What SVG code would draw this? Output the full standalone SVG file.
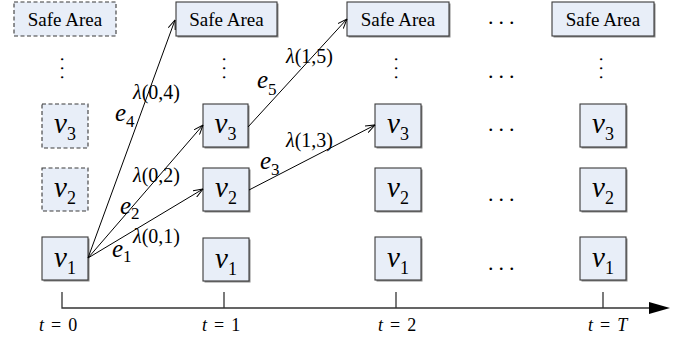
<svg xmlns="http://www.w3.org/2000/svg" width="688" height="340" viewBox="0 0 688 340">
<style>
.box{fill:#E8EEF8;stroke:#3a3a3a;stroke-width:1.1}
.dash{stroke-dasharray:4,2.5}
.sh{fill:#8a8a8a}
text{font-family:'Liberation Serif','DejaVu Serif',serif;fill:#000}
.sa{font-size:19px;text-anchor:middle}
.v{font-size:29px;font-style:italic;text-anchor:middle}
.sub{font-size:18px;font-style:normal}
.lam{font-size:20px}
.e{font-size:25px;font-style:italic}
.es{font-size:17px;font-style:normal}
.ax{font-size:18px;word-spacing:2.5px}
.conn{stroke:#000;stroke-width:1;fill:none}
.axis{stroke:#333;stroke-width:1.3;fill:none}
.dots{font-size:22px;letter-spacing:5px}
.vd{font-size:18px;letter-spacing:4.5px}
</style>
<defs>
<marker id="oa" viewBox="0 0 10 8" refX="9.6" refY="4" markerWidth="10" markerHeight="8" markerUnits="userSpaceOnUse" orient="auto">
<path d="M0,0.3 L9.6,4 L0,7.7" fill="none" stroke="#000" stroke-width="1"/>
</marker>
<marker id="fa" viewBox="0 0 22 12" refX="0" refY="6" markerWidth="22" markerHeight="12" markerUnits="userSpaceOnUse" orient="auto">
<path d="M0,0 L21,6 L0,12 Z" fill="#000"/>
</marker>
</defs>

<g font-family="'Liberation Serif', 'DejaVu Serif', serif">
<!-- column t=0 -->
<g id="c0-safe"><rect class="box dash" x="14" y="2" width="102" height="34"/><text class="sa" x="65" y="26">Safe Area</text></g>
<g id="c0-v3"><rect class="box dash" x="42" y="104" width="46" height="44"/><text class="v" x="65" y="133">v<tspan class="sub" dy="7">3</tspan></text></g>
<g id="c0-v2"><rect class="box dash" x="42" y="168" width="46" height="43"/><text class="v" x="65" y="197">v<tspan class="sub" dy="7">2</tspan></text></g>
<g id="c0-v1"><rect class="sh" x="43.5" y="238.5" width="46" height="43"/><rect class="box" x="42" y="237" width="46" height="43"/><text class="v" x="65" y="267">v<tspan class="sub" dy="7">1</tspan></text></g>

<!-- column t=1 -->
<g id="c1-safe"><rect class="sh" x="177.5" y="3.5" width="101" height="34"/><rect class="box" x="176" y="2" width="101" height="34"/><text class="sa" x="226.5" y="26">Safe Area</text></g>
<g id="c1-v3"><rect class="sh" x="204.5" y="105.5" width="45" height="43"/><rect class="box" x="203" y="104" width="45" height="43"/><text class="v" x="225.5" y="133">v<tspan class="sub" dy="7">3</tspan></text></g>
<g id="c1-v2"><rect class="sh" x="204.5" y="169.5" width="46" height="43"/><rect class="box" x="203" y="168" width="46" height="43"/><text class="v" x="226" y="197">v<tspan class="sub" dy="7">2</tspan></text></g>
<g id="c1-v1"><rect class="sh" x="204.5" y="239.5" width="46" height="43"/><rect class="box" x="203" y="238" width="46" height="43"/><text class="v" x="226" y="268">v<tspan class="sub" dy="7">1</tspan></text></g>

<!-- column t=2 -->
<g id="c2-safe"><rect class="sh" x="348.5" y="3.5" width="102" height="34"/><rect class="box" x="347" y="2" width="102" height="34"/><text class="sa" x="398" y="26">Safe Area</text></g>
<g id="c2-v3"><rect class="sh" x="376.5" y="105.5" width="46" height="43"/><rect class="box" x="375" y="104" width="46" height="43"/><text class="v" x="398" y="133">v<tspan class="sub" dy="7">3</tspan></text></g>
<g id="c2-v2"><rect class="sh" x="376.5" y="169.5" width="46" height="43"/><rect class="box" x="375" y="168" width="46" height="43"/><text class="v" x="398" y="197">v<tspan class="sub" dy="7">2</tspan></text></g>
<g id="c2-v1"><rect class="sh" x="376.5" y="238.5" width="46" height="43"/><rect class="box" x="375" y="237" width="46" height="43"/><text class="v" x="398" y="267">v<tspan class="sub" dy="7">1</tspan></text></g>

<!-- column t=T -->
<g id="cT-safe"><rect class="sh" x="553.5" y="3.5" width="102" height="34"/><rect class="box" x="552" y="2" width="102" height="34"/><text class="sa" x="603" y="26">Safe Area</text></g>
<g id="cT-v3"><rect class="sh" x="581.5" y="105.5" width="46" height="43"/><rect class="box" x="580" y="104" width="46" height="43"/><text class="v" x="603" y="133">v<tspan class="sub" dy="7">3</tspan></text></g>
<g id="cT-v2"><rect class="sh" x="581.5" y="169.5" width="46" height="43"/><rect class="box" x="580" y="168" width="46" height="43"/><text class="v" x="603" y="197">v<tspan class="sub" dy="7">2</tspan></text></g>
<g id="cT-v1"><rect class="sh" x="581.5" y="238.5" width="46" height="43"/><rect class="box" x="580" y="237" width="46" height="43"/><text class="v" x="603" y="267">v<tspan class="sub" dy="7">1</tspan></text></g>

<!-- vertical dots -->
<g id="vdots">
<text class="vd" transform="translate(61,57) rotate(90)">...</text>
<text class="vd" transform="translate(223,57) rotate(90)">...</text>
<text class="vd" transform="translate(395,57) rotate(90)">...</text>
<text class="vd" transform="translate(600,57) rotate(90)">...</text>
</g>
<!-- horizontal dots -->
<g id="hdots">
<text class="dots" x="488" y="24">...</text>
<text class="dots" x="488" y="78">...</text>
<text class="dots" x="488" y="131">...</text>
<text class="dots" x="488" y="201">...</text>
<text class="dots" x="488" y="270">...</text>
</g>

<!-- edge labels -->
<g id="labels">
<text class="lam" x="133" y="99"><tspan font-style="italic">λ</tspan>(0,4)</text>
<text class="e" x="115" y="121">e<tspan class="es" dy="6">4</tspan></text>
<text class="lam" x="133" y="182"><tspan font-style="italic">λ</tspan>(0,2)</text>
<text class="e" x="120" y="214">e<tspan class="es" dy="5">2</tspan></text>
<text class="lam" x="133" y="243"><tspan font-style="italic">λ</tspan>(0,1)</text>
<text class="e" x="112" y="257">e<tspan class="es" dy="5">1</tspan></text>
<text class="lam" x="286" y="63"><tspan font-style="italic">λ</tspan>(1,5)</text>
<text class="e" x="257" y="88">e<tspan class="es" dy="7">5</tspan></text>
<text class="lam" x="286" y="147"><tspan font-style="italic">λ</tspan>(1,3)</text>
<text class="e" x="260" y="169">e<tspan class="es" dy="6">3</tspan></text>
</g>

<!-- time axis -->
<g id="axis">
<path class="axis" d="M62,292 V308 H649" marker-end="url(#fa)"/>
<line class="axis" x1="224" y1="292" x2="224" y2="308"/>
<line class="axis" x1="396" y1="292" x2="396" y2="308"/>
<line class="axis" x1="603" y1="292" x2="603" y2="308"/>
<text class="ax" x="39" y="331"><tspan font-style="italic">t</tspan> = 0</text>
<text class="ax" x="202" y="331"><tspan font-style="italic">t</tspan> = 1</text>
<text class="ax" x="378" y="331"><tspan font-style="italic">t</tspan> = 2</text>
<text class="ax" x="588" y="331"><tspan font-style="italic">t</tspan> = <tspan font-style="italic">T</tspan></text>
</g>
</g>

<!-- connectors -->
<g id="connectors">
<line class="conn" x1="88" y1="258" x2="175" y2="20" marker-end="url(#oa)"/>
<line class="conn" x1="88" y1="258" x2="203" y2="125" marker-end="url(#oa)"/>
<line class="conn" x1="88" y1="258" x2="203" y2="189" marker-end="url(#oa)"/>
<line class="conn" x1="248" y1="127" x2="347" y2="19" marker-end="url(#oa)"/>
<line class="conn" x1="249" y1="190" x2="375" y2="125" marker-end="url(#oa)"/>
</g>
</svg>
